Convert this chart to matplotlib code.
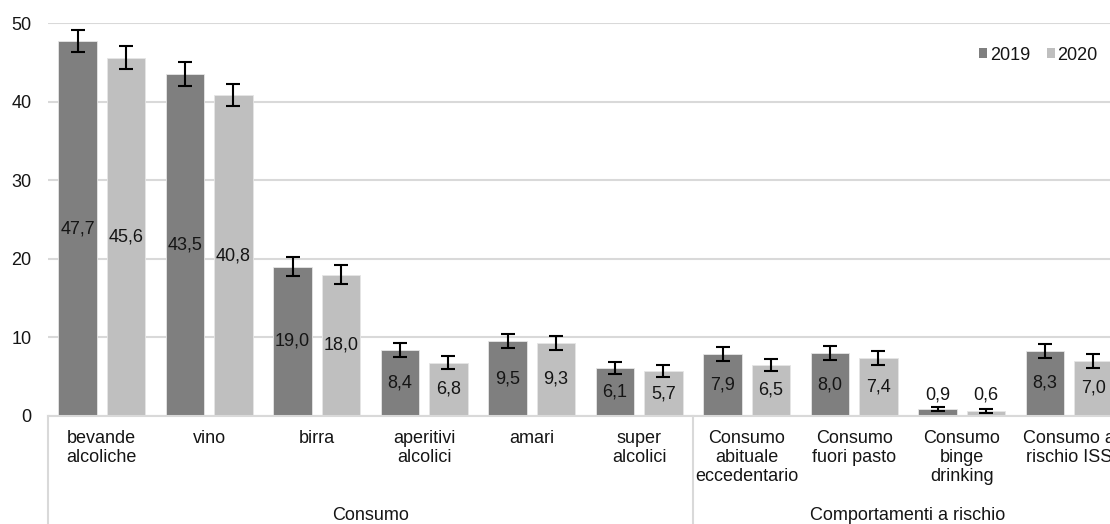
import matplotlib
matplotlib.use("Agg")
import matplotlib.pyplot as plt
from matplotlib.patches import Patch
import numpy as np

plt.rcParams['font.family'] = ['Liberation Sans', 'DejaVu Sans']

categories = ["bevande\nalcoliche", "vino", "birra", "aperitivi\nalcolici", "amari",
              "super\nalcolici", "Consumo\nabituale\neccedentario", "Consumo\nfuori pasto",
              "Consumo\nbinge\ndrinking", "Consumo a\nrischio ISS"]
groups = ["Consumo", "Comportamenti a rischio"]
group_sizes = [6, 4]

years = ["2019", "2020"]
values_2019 = [47.7, 43.5, 19.0, 8.4, 9.5, 6.1, 7.9, 8.0, 0.9, 8.3]
values_2020 = [45.6, 40.8, 18.0, 6.8, 9.3, 5.7, 6.5, 7.4, 0.6, 7.0]
err_2019 = [1.45, 1.5, 1.2, 0.85, 0.9, 0.78, 0.87, 0.9, 0.3, 0.9]
err_2020 = [1.45, 1.4, 1.15, 0.85, 0.87, 0.75, 0.75, 0.85, 0.25, 0.85]

colors = ["#7f7f7f", "#bfbfbf"]
text_color = "#151515"
grid_color = "#d9d9d9"
fs = 13

W, H = 1110, 524
fig = plt.figure(figsize=(W / 100, H / 100), dpi=100)
ax_left, ax_right, ax_top, ax_bottom = 48, 1123, 23, 416
ax = fig.add_axes([ax_left / W, 1 - ax_bottom / H,
                   (ax_right - ax_left) / W, (ax_bottom - ax_top) / H])

n = len(categories)
x = np.arange(n)
width = 0.36
offset = 0.225

for vals, errs, col, dx, lab in [(values_2019, err_2019, colors[0], -offset, years[0]),
                                 (values_2020, err_2020, colors[1], offset, years[1])]:
    ax.bar(x + dx, vals, width, color=col, edgecolor="#e6e6e6", linewidth=0.6,
           zorder=2, label=lab)
    ax.errorbar(x + dx, vals, yerr=errs, fmt="none", ecolor="black",
                elinewidth=1.5, capsize=5, capthick=1.5, zorder=3)
    for xi, v in zip(x + dx, vals):
        ax.text(xi, max(v / 2, 2.7), f"{v:.1f}".replace(".", ","),
                ha="center", va="center", fontsize=fs, color=text_color, zorder=4)

ax.set_xlim(-0.5, n - 0.5)
ax.set_ylim(0, 50)
ax.set_yticks(np.arange(0, 51, 10))
ax.yaxis.grid(True, color=grid_color, linewidth=1.5, zorder=0)
ax.set_axisbelow(True)
for s in ["left", "right", "top"]:
    ax.spines[s].set_visible(False)
ax.spines["bottom"].set_color(grid_color)
ax.spines["bottom"].set_linewidth(1.5)
ax.tick_params(axis="y", length=0, pad=12, labelsize=fs, labelcolor=text_color)
ax.tick_params(axis="x", length=0)
ax.set_xticks([])

# category labels (first level) and group labels (second level)
ax_h = ax_bottom - ax_top
trans = ax.get_xaxis_transform()
for xi, c in zip(x, categories):
    ax.text(xi, -(430 - ax_bottom) / ax_h, c, transform=trans, ha="center", va="top",
            fontsize=fs, color=text_color, linespacing=1.15)

start = 0
line_bottom = -(H - ax_bottom) / ax_h
ax.plot([-0.5, -0.5], [0, line_bottom], transform=trans, color=grid_color,
        linewidth=1.5, clip_on=False)
for g, size in zip(groups, group_sizes):
    end = start + size
    ax.text((start + end - 1) / 2, -(515 - ax_bottom) / ax_h, g, transform=trans,
            ha="center", va="center", fontsize=fs, color=text_color)
    ax.plot([end - 0.5, end - 0.5], [0, line_bottom], transform=trans,
            color=grid_color, linewidth=1.5, clip_on=False)
    start = end

handles = [Patch(facecolor=colors[0]), Patch(facecolor=colors[1])]
fig.legend(handles, years, loc="center right", bbox_to_anchor=(1114 / W, 1 - 55 / H),
           ncol=2, frameon=False, fontsize=fs, handlelength=0.45, handleheight=0.45,
           handletextpad=0.15, columnspacing=0.9, labelcolor=text_color)

fig.savefig("out.png", dpi=100)
